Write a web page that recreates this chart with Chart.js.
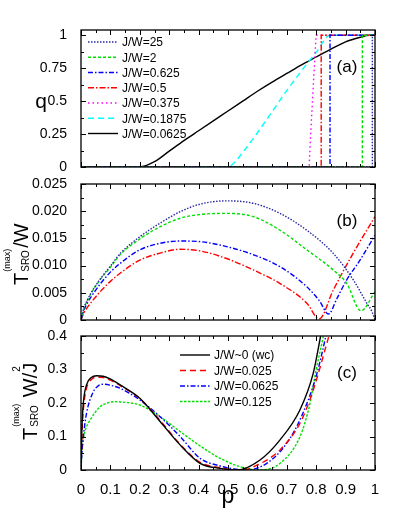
<!DOCTYPE html>
<html>
<head>
<meta charset="utf-8">
<script src="https://cdn.jsdelivr.net/npm/chart.js@4"></script>
<style>
  body { margin: 0; background: #fff; }
  .wrap { position: relative; width: 399px; height: 524px; }
  canvas { position: absolute; left: 0; top: 0; }
</style>
</head>
<body>
<div class="wrap">
  <canvas id="chartA" width="399" height="524"></canvas>
  <canvas id="chartB" width="399" height="524"></canvas>
  <canvas id="chartC" width="399" height="524"></canvas>
</div>
<script>
const FONT = '"Liberation Sans", Arial, sans-serif';

// shared x axis (p)
const pTicks = [0, 0.1, 0.2, 0.3, 0.4, 0.5, 0.6, 0.7, 0.8, 0.9, 1];
const pMinor = [0.05, 0.15, 0.25, 0.35, 0.45, 0.55, 0.65, 0.75, 0.85, 0.95];

// panel (a): q vs p
const qTicks = [0, 0.25, 0.5, 0.75, 1];
const qMinor = [0.125, 0.375, 0.625, 0.875];
const labelsA = ['J/W=25', 'J/W=2', 'J/W=0.625', 'J/W=0.5', 'J/W=0.375', 'J/W=0.1875', 'J/W=0.0625'];
const pA25 = [0, 0.991, 0.991, 1];
const qA25 = [0, 0, 1, 1];
const pA2 = [0, 0.957, 0.957, 1];
const qA2 = [0, 0, 1, 1];
const pA0625 = [0, 0.847, 0.847, 1];
const qA0625 = [0, 0, 1, 1];
const pA05 = [0, 0.817, 0.817, 1];
const qA05 = [0, 0, 1, 1];
const pA0375 = [0, 0.776, 0.78, 0.796, 0.8, 1];
const qA0375 = [0, 0, 0.2, 0.86, 1, 1];
const pA01875 = [0, 0.5, 0.52, 0.55, 0.6, 0.65, 0.7, 0.75, 0.8, 0.847, 1];
const qA01875 = [0, 0, 0.03, 0.11, 0.26, 0.42, 0.58, 0.73, 0.87, 1, 1];
const pA00625 = [0, 0.2, 0.25, 0.3, 0.35, 0.4, 0.45, 0.5, 0.55, 0.6, 0.65, 0.7, 0.75, 0.8, 0.85, 0.9, 0.95, 0.98, 1];
const qA00625 = [0, 0, 0.04, 0.12, 0.2, 0.275, 0.35, 0.425, 0.5, 0.575, 0.645, 0.71, 0.775, 0.835, 0.895, 0.95, 0.985, 1, 1];

// panel (b): T_SRO^(max)/W vs p
const tbTicks = [0, 0.005, 0.010, 0.015, 0.020, 0.025];
const tbMinor = [0.0025, 0.0075, 0.0125, 0.0175, 0.0225];
const pB25 = [0, 0.01, 0.02, 0.04, 0.065, 0.1, 0.133, 0.2, 0.269, 0.337, 0.405, 0.495, 0.586, 0.677, 0.768, 0.858, 0.926, 0.972, 0.99, 1];
const tB25 = [0, 0.0022, 0.0035, 0.0055, 0.0075, 0.0099, 0.0122, 0.0153, 0.0178, 0.0199, 0.0213, 0.0219, 0.02145, 0.0196, 0.0165, 0.01225, 0.0074, 0.0031, 0.0015, 0];
const pB2 = [0, 0.01, 0.02, 0.04, 0.065, 0.1, 0.133, 0.2, 0.269, 0.337, 0.405, 0.495, 0.586, 0.677, 0.768, 0.858, 0.904, 0.952, 1];
const tB2 = [0, 0.0021, 0.0034, 0.0054, 0.0074, 0.0097, 0.012, 0.0149, 0.01715, 0.0187, 0.0194, 0.0196, 0.019, 0.0165, 0.0129, 0.0092, 0.0067, 0.0017, 0.0052];
const pB0625 = [0, 0.01, 0.02, 0.04, 0.065, 0.1, 0.133, 0.2, 0.269, 0.337, 0.405, 0.495, 0.586, 0.677, 0.768, 0.81, 0.842, 0.87, 0.904, 0.949, 1];
const tB0625 = [0, 0.0018, 0.003, 0.0047, 0.0066, 0.0088, 0.0104, 0.0129, 0.0141, 0.01452, 0.0144, 0.0135, 0.012, 0.0098, 0.0061, 0.0036, 0.0011, 0.0039, 0.0074, 0.011, 0.0156];
const pB05 = [0, 0.01, 0.02, 0.04, 0.065, 0.1, 0.133, 0.2, 0.269, 0.337, 0.405, 0.495, 0.586, 0.677, 0.768, 0.81, 0.858, 0.926, 1];
const tB05 = [0, 0.0013, 0.0022, 0.0036, 0.0052, 0.0071, 0.0086, 0.011, 0.0123, 0.013, 0.0127, 0.0113, 0.0092, 0.0067, 0.0031, 0.0002, 0.0055, 0.0123, 0.019];

// panel (c): T_SRO^(max) W/J^2 vs p
const tcTicks = [0, 0.1, 0.2, 0.3, 0.4];
const tcMinor = [0.05, 0.15, 0.25, 0.35];
const labelsC = ['J/W~0 (wc)', 'J/W=0.025', 'J/W=0.0625', 'J/W=0.125'];
const pCwc = [0, 0.003, 0.008, 0.019, 0.035, 0.053, 0.075, 0.099, 0.133, 0.2, 0.269, 0.337, 0.405, 0.473, 0.53, 0.609, 0.677, 0.745, 0.79, 0.815, 0.83];
const tCwc = [0, 0.12, 0.2, 0.255, 0.276, 0.2815, 0.28, 0.272, 0.254, 0.214, 0.145, 0.075, 0.02, 0.005, 0, 0.03, 0.09, 0.18, 0.289, 0.4, 0.47];
const pC0025 = [0, 0.003, 0.008, 0.019, 0.035, 0.055, 0.075, 0.1, 0.133, 0.2, 0.269, 0.337, 0.405, 0.473, 0.55, 0.6, 0.65, 0.677, 0.745, 0.79, 0.841, 0.86];
const tC0025 = [0, 0.1, 0.18, 0.245, 0.27, 0.277, 0.276, 0.268, 0.252, 0.213, 0.148, 0.077, 0.023, 0.007, 0, 0.015, 0.04, 0.06, 0.14, 0.239, 0.393, 0.45];
const pC00625 = [0, 0.003, 0.008, 0.019, 0.04, 0.06, 0.076, 0.1, 0.133, 0.2, 0.269, 0.337, 0.405, 0.473, 0.52, 0.565, 0.632, 0.7, 0.75, 0.8, 0.833, 0.85];
const tC00625 = [0, 0.05, 0.1, 0.17, 0.23, 0.252, 0.256, 0.253, 0.244, 0.209, 0.159, 0.1, 0.035, 0.012, 0.003, 0, 0.02, 0.08, 0.16, 0.28, 0.4, 0.47];
const pC0125 = [0, 0.003, 0.008, 0.015, 0.031, 0.065, 0.09, 0.116, 0.15, 0.2, 0.269, 0.337, 0.405, 0.473, 0.541, 0.609, 0.677, 0.745, 0.779, 0.8, 0.824, 0.84];
const tC0125 = [0, 0.05, 0.09, 0.12, 0.149, 0.189, 0.2, 0.204, 0.202, 0.194, 0.159, 0.115, 0.072, 0.035, 0.01, 0, 0.02, 0.1, 0.199, 0.3, 0.398, 0.47];

const pts = (xs, ys) => xs.map((x, i) => ({ x: x, y: ys[i] }));

function line(label, xs, ys, color, dash, smooth) {
  return {
    label: label,
    data: pts(xs, ys),
    borderColor: color,
    borderDash: dash,
    borderWidth: 1.4,
    pointRadius: 0,
    fill: false,
    tension: 0,
    cubicInterpolationMode: smooth ? 'monotone' : 'default'
  };
}

// frame with inward ticks, panel label, legend and y title
const framePlugin = {
  id: 'frame',
  afterDatasetsDraw(chart, args, opts) {
    const { ctx, chartArea: a, scales } = chart;
    const x = scales.x, y = scales.y;
    ctx.save();
    ctx.strokeStyle = '#000';
    ctx.lineWidth = 1;
    const xt = (vals, len) => vals.forEach(v => {
      const px = Math.round(x.getPixelForValue(v)) + 0.5;
      ctx.beginPath();
      ctx.moveTo(px, a.bottom); ctx.lineTo(px, a.bottom - len);
      ctx.moveTo(px, a.top); ctx.lineTo(px, a.top + len);
      ctx.stroke();
    });
    const yt = (vals, len) => vals.forEach(v => {
      const py = Math.round(y.getPixelForValue(v)) + 0.5;
      ctx.beginPath();
      ctx.moveTo(a.left, py); ctx.lineTo(a.left + len, py);
      ctx.moveTo(a.right, py); ctx.lineTo(a.right - len, py);
      ctx.stroke();
    });
    xt(pTicks, 5); xt(pMinor, 3);
    yt(opts.yMajor, 5); yt(opts.yMinor, 3);
    ctx.lineWidth = 1.3;
    ctx.strokeRect(a.left, a.top, a.right - a.left, a.bottom - a.top);

    ctx.fillStyle = '#000';
    ctx.font = '17px ' + FONT;
    ctx.textAlign = 'center';
    ctx.textBaseline = 'middle';
    ctx.fillText(opts.tag, a.right - 28, a.top + 37);

    if (opts.legend) {
      const L = opts.legend;
      ctx.font = '12px ' + FONT;
      ctx.textAlign = 'left';
      chart.data.datasets.forEach((ds, i) => {
        const ly = L.y + i * L.step;
        ctx.save();
        ctx.strokeStyle = ds.borderColor;
        ctx.lineWidth = ds.borderWidth;
        ctx.setLineDash(ds.borderDash || []);
        ctx.beginPath();
        ctx.moveTo(L.x, ly); ctx.lineTo(L.x + 30, ly);
        ctx.stroke();
        ctx.restore();
        ctx.fillText(ds.label, L.x + 34, ly + 1);
      });
    }
    if (opts.ytitle) opts.ytitle(ctx);
    ctx.restore();
  }
};

function titleQ(ctx) {
  ctx.font = '21px ' + FONT;
  ctx.textAlign = 'center';
  ctx.textBaseline = 'alphabetic';
  ctx.fillText('q', 41, 108);
}

function titleT(ctx, bx, by, rest, sq) {
  ctx.save();
  ctx.translate(bx, by);
  ctx.rotate(-Math.PI / 2);
  ctx.textAlign = 'left';
  ctx.textBaseline = 'alphabetic';
  ctx.font = '20px ' + FONT;
  ctx.fillText('T', 0, 0);
  const w = ctx.measureText('T').width;
  ctx.font = '10px ' + FONT;
  ctx.fillText('SRO', w + 1, 1);
  const ws = ctx.measureText('SRO').width;
  ctx.font = '9px ' + FONT;
  ctx.fillText('(max)', w + 1, -18);
  const wm = ctx.measureText('(max)').width;
  ctx.font = '20px ' + FONT;
  const x0 = w + 2 + Math.max(ws, wm);
  ctx.fillText(rest, x0, 0);
  if (sq) {
    const wr = ctx.measureText(rest).width;
    const wj = ctx.measureText('J').width;
    ctx.font = '10px ' + FONT;
    ctx.fillText('2', x0 + wr - wj + 1, -17);
  }
  ctx.restore();
}

const tickFont = { family: FONT, size: 14 };

function yAxis(min, max, ticksArr, fmt) {
  return {
    type: 'linear',
    min: min,
    max: max,
    afterBuildTicks: s => { s.ticks = ticksArr.map(v => ({ value: v })); },
    afterFit: s => { s.width = 81; },
    grid: { display: false },
    border: { display: false },
    ticks: { padding: 6, color: '#000', font: tickFont, autoSkip: false, callback: fmt }
  };
}

const hiddenX = { type: 'linear', min: 0, max: 1, display: false };

const baseOpts = {
  responsive: false,
  animation: false,
  events: [],
  plugins: { legend: { display: false }, tooltip: { enabled: false } }
};

new Chart(document.getElementById('chartA'), {
  type: 'line',
  data: {
    datasets: [
      line(labelsA[0], pA25, qA25, '#2a2aa8', [1.5, 1.5], false),
      line(labelsA[1], pA2, qA2, '#00e000', [3, 2], false),
      line(labelsA[2], pA0625, qA0625, '#0000ff', [5, 2, 1.5, 2], false),
      line(labelsA[3], pA05, qA05, '#ff0000', [6, 2, 1.5, 2], false),
      line(labelsA[4], pA0375, qA0375, '#ff00ff', [1.5, 3], false),
      line(labelsA[5], pA01875, qA01875, '#00ffff', [6, 4], true),
      line(labelsA[6], pA00625, qA00625, '#000000', [], true)
    ]
  },
  options: Object.assign({}, baseOpts, {
    layout: { padding: { top: 30, right: 24, bottom: 357, left: 0 } },
    scales: {
      x: hiddenX,
      y: yAxis(0, 1.04, qTicks, v => String(v))
    },
    plugins: Object.assign({}, baseOpts.plugins, {
      frame: { yMajor: qTicks, yMinor: qMinor, tag: '(a)', legend: { x: 88, y: 42, step: 15.25 }, ytitle: titleQ }
    })
  }),
  plugins: [framePlugin]
});

new Chart(document.getElementById('chartB'), {
  type: 'line',
  data: {
    datasets: [
      line('J/W=25', pB25, tB25, '#2a2aa8', [1.5, 1.5], true),
      line('J/W=2', pB2, tB2, '#00e000', [3, 2], true),
      line('J/W=0.625', pB0625, tB0625, '#0000ff', [5, 2, 1.5, 2], true),
      line('J/W=0.5', pB05, tB05, '#ff0000', [6, 2, 1.5, 2], true)
    ]
  },
  options: Object.assign({}, baseOpts, {
    layout: { padding: { top: 184, right: 24, bottom: 204, left: 0 } },
    scales: {
      x: hiddenX,
      y: yAxis(0, 0.025, tbTicks, v => v === 0 ? '0' : v.toFixed(3))
    },
    plugins: Object.assign({}, baseOpts.plugins, {
      frame: { yMajor: tbTicks, yMinor: tbMinor, tag: '(b)', ytitle: ctx => titleT(ctx, 28, 285, '/W', false) }
    })
  }),
  plugins: [framePlugin]
});

new Chart(document.getElementById('chartC'), {
  type: 'line',
  data: {
    datasets: [
      line(labelsC[0], pCwc, tCwc, '#000000', [], true),
      line(labelsC[1], pC0025, tC0025, '#ff0000', [6, 4], true),
      line(labelsC[2], pC00625, tC00625, '#0000ff', [5, 2, 1.5, 2], true),
      line(labelsC[3], pC0125, tC0125, '#00e000', [2.5, 1.5], true)
    ]
  },
  options: Object.assign({}, baseOpts, {
    layout: { padding: { top: 336, right: 24, bottom: 0, left: 0 } },
    scales: {
      x: {
        type: 'linear',
        min: 0,
        max: 1,
        afterBuildTicks: s => { s.ticks = pTicks.map(v => ({ value: v })); },
        afterFit: s => { s.height = 54; },
        grid: { display: false },
        border: { display: false },
        ticks: {
          padding: 3, color: '#000', autoSkip: false, maxRotation: 0,
          font: { family: FONT, size: 15 },
          callback: v => (v === 0 || v === 1) ? String(v) : v.toFixed(1)
        },
        title: { display: true, text: 'p', color: '#000', font: { family: FONT, size: 23 }, padding: { top: 0, bottom: 14 } }
      },
      y: yAxis(0, 0.4, tcTicks, v => v === 0 ? '0' : v.toFixed(1))
    },
    plugins: Object.assign({}, baseOpts.plugins, {
      frame: { yMajor: tcTicks, yMinor: tcMinor, tag: '(c)', legend: { x: 180, y: 355, step: 15.5 }, ytitle: ctx => titleT(ctx, 37, 440, ' W/J', true) }
    })
  }),
  plugins: [framePlugin]
});
</script>
</body>
</html>
